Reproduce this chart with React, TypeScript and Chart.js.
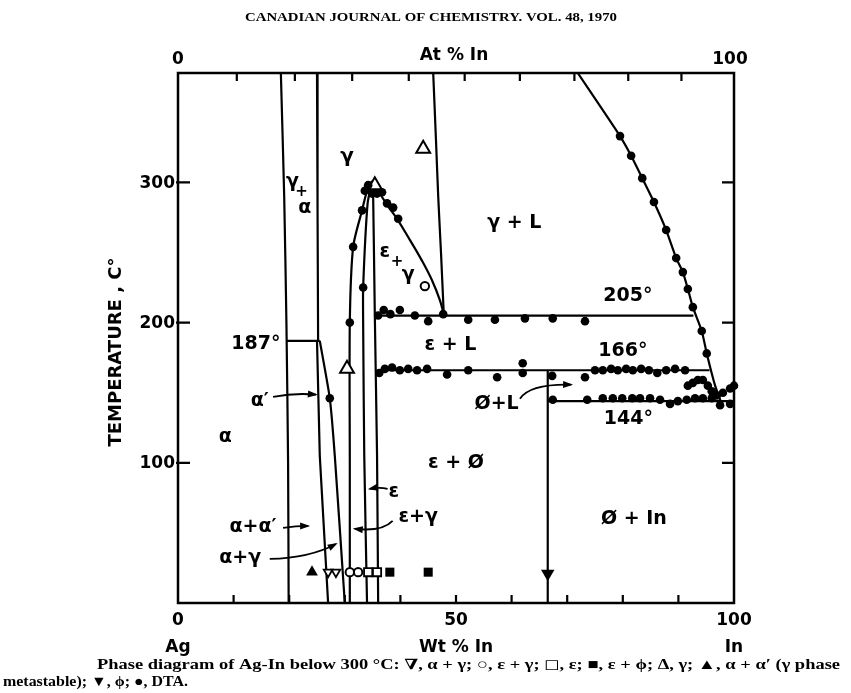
import React, { useEffect, useRef } from "react";
import { Chart, registerables } from "chart.js";

Chart.register(...registerables);

type P = [number, number];

// ---------- axes ----------
const X_MIN = 0;
const X_MAX = 100;
const Y_MIN = 0;
const Y_MAX = 378;
const yTickValues = [100, 200, 300];
const yTickLabels = ["100", "200", "300"];
const xTickValues = [10, 20, 30, 40, 50, 60, 70, 80, 90];
const xLabelValues = [0, 50, 100];
const xLabelTexts = ["0", "50", "100"];
const atTickValues = [10, 20, 30, 40, 50, 60, 70, 80, 90];
const atLabelValues = [0, 100];
const atLabelTexts = ["0", "100"];
const MASS_AG = 107.87;
const MASS_IN = 114.82;
const atToWt = (a: number) => (100 * a * MASS_IN) / (a * MASS_IN + (100 - a) * MASS_AG);

// ---------- phase boundaries (wt % In, °C) ----------
const alphaSolvus: P[] = [[18.5, 378], [19.1, 290], [19.5, 200], [19.8, 100], [19.9, 0]];
const gammaAlphaRight: P[] = [[25.0, 378], [25.1, 280], [25.2, 187]];
const iso187: P[] = [[19.6, 187], [25.5, 187]];
const alphaPrimeLeft: P[] = [[25.0, 187], [25.5, 105], [27.0, 0]];
const alphaPrimeRight: P[] = [[25.5, 187], [27.3, 146], [28.2, 105], [30.0, 0]];
const gammaLowLeft: P[] = [[30.9, 0], [30.9, 100], [30.9, 200], [31.5, 254], [33.1, 280], [34.0, 294], [34.9, 301]];
const epsLeft: P[] = [[34.0, 0], [33.5, 105], [33.3, 200], [33.3, 225], [34.1, 285], [34.9, 301]];
const epsRight: P[] = [[36.0, 0], [35.8, 105], [35.4, 205], [35.1, 290], [34.9, 301]];
const gammaEpsCurve: P[] = [[34.9, 301], [37.6, 284], [39.4, 274], [41.7, 259], [43.9, 244], [45.7, 230], [47.1, 216], [47.8, 206]];
const gammaRight: P[] = [[45.9, 378], [46.4, 330], [46.8, 290], [47.3, 250], [47.8, 206]];
const iso205: P[] = [[35.4, 205], [92.7, 205]];
const liquidus: P[] = [
  [71.9, 378], [79.5, 333], [81.5, 319], [83.5, 303], [85.6, 286], [87.8, 266], [89.6, 246],
  [90.8, 236], [91.7, 224], [92.6, 211], [94.2, 194], [95.1, 178], [96.6, 155], [97.6, 144],
];
const iso166: P[] = [[35.8, 166], [95.6, 166]];
const phiLine: P[] = [[66.5, 166], [66.5, 0]];
const iso144: P[] = [[66.5, 144], [100, 144]];

// ---------- experimental points ----------
const dtaPoints: P[] = [
  // peak region
  [30.9, 200], [31.5, 254], [33.1, 280], [33.3, 225], [34.2, 298], [33.6, 294], [34.9, 292],
  [35.8, 292], [36.7, 293], [37.6, 285], [38.7, 282], [39.6, 274], [27.3, 146],
  // 205 row
  [36.0, 205], [37.0, 209], [38.2, 206], [39.9, 209], [42.6, 205], [45.0, 201], [47.7, 206],
  [52.2, 202], [57.0, 202], [62.4, 203], [67.4, 203], [73.2, 201],
  // 166 row
  [36.2, 164], [37.2, 167], [38.5, 168], [39.9, 166], [41.4, 167], [43.0, 166], [44.8, 167],
  [48.4, 163], [52.2, 166], [57.4, 161], [62.0, 171], [62.0, 164], [67.3, 162], [73.2, 161],
  [75.0, 166], [76.4, 166], [77.9, 167], [79.1, 166], [80.6, 167], [81.8, 166], [83.3, 167],
  [84.7, 166], [86.2, 164], [87.8, 166], [89.4, 167], [91.2, 166],
  // 144 row
  [67.4, 145], [73.6, 145], [76.4, 146], [78.2, 146], [79.9, 146], [81.7, 146], [83.1, 146],
  [84.9, 146], [86.7, 145], [88.5, 142], [89.9, 144], [91.5, 145], [93.0, 146], [94.4, 146],
  [96.0, 146], [97.5, 141], [99.3, 142],
  // cluster near eutectic
  [91.7, 155], [92.6, 157], [93.5, 159], [94.4, 159], [95.3, 155], [96.0, 151], [96.9, 148],
  [98.0, 150], [99.3, 153], [100, 155],
  // liquidus
  [79.5, 333], [81.5, 319], [83.5, 303], [85.6, 286], [87.8, 266], [89.6, 246], [90.8, 236],
  [91.7, 224], [92.6, 211], [94.2, 194], [95.1, 178],
];
const gammaPoints: P[] = [[44.1, 324], [30.4, 167], [35.4, 298]]; // open up-triangles
const epsGammaPoints: P[] = [[44.4, 226], [30.9, 22], [32.4, 22]]; // open circles
const alphaGammaPoints: P[] = [[27.0, 22], [28.4, 22]]; // open down-triangles
const epsPoints: P[] = [[34.2, 22], [35.8, 22]]; // open squares
const epsPhiPoints: P[] = [[38.1, 22], [45.0, 22]]; // filled squares
const alphaAlphaPrimePoints: P[] = [[24.1, 22]]; // filled up-triangle
const phiPoints: P[] = [[66.5, 21]]; // filled down-triangle

// ---------- labels (wt %, °C) ----------
const regionLabels: [string, number, number, number][] = [
  ["γ", 30.4, 318, 20],
  ["α", 22.8, 282, 19],
  ["γ + L", 60.5, 271, 19],
  ["ε", 37.2, 250, 19],
  ["+", 39.4, 243, 15],
  ["γ", 41.4, 234, 19],
  ["205°", 80.9, 219, 19],
  ["187°", 14.0, 185, 19],
  ["ε + L", 49.0, 184, 19],
  ["166°", 80.0, 180, 19],
  ["Ø+L", 57.3, 142, 19],
  ["144°", 81.0, 131, 19],
  ["α′", 14.7, 144, 19],
  ["α", 8.5, 118, 19],
  ["ε + Ø", 50.0, 100, 19],
  ["ε", 38.8, 79, 19],
  ["ε+γ", 43.2, 61, 19],
  ["α+α′", 13.5, 54, 19],
  ["α+γ", 11.2, 32, 19],
  ["Ø + In", 82.0, 60, 19],
];
// arrows: start, control, end
const arrows: [P, P, P][] = [
  [[17.1, 147], [21.0, 150], [24.8, 148.6]],
  [[18.9, 53.6], [21.2, 55], [23.4, 55]],
  [[16.5, 31.4], [23.7, 32.1], [28.4, 42.1]],
  [[38.6, 58.6], [36.7, 50.7], [31.8, 52.9]],
  [[37.7, 81.4], [36.3, 82.9], [34.5, 81.4]],
  [[61.5, 145.7], [63.3, 156.4], [70.7, 155.7]],
];

const headerText = "CANADIAN JOURNAL OF CHEMISTRY. VOL. 48, 1970";
const captionLine1 = "Phase diagram of Ag-In below 300 °C: ∇, α + γ; ○, ε + γ; ◻, ε; ■, ε + ϕ; Δ, γ; ▲, α + α′ (γ phase";
const captionLine2 = "metastable); ▼, ϕ; ●, DTA.";

const pts = (a: P[]) => a.map(([x, y]) => ({ x, y }));

const LBL = '"DejaVu Sans", sans-serif';

const decor = {
  id: "decor",
  beforeDraw(chart: any) {
    const ctx = chart.ctx;
    ctx.save();
    ctx.fillStyle = "#fff";
    ctx.fillRect(0, 0, chart.width, chart.height);
    ctx.restore();
  },
  afterDraw(chart: any) {
    const ctx: CanvasRenderingContext2D = chart.ctx;
    const xs = chart.scales.x;
    const ys = chart.scales.y;
    const X = (v: number) => xs.getPixelForValue(v);
    const Y = (v: number) => ys.getPixelForValue(v);
    const { left, right, top, bottom } = chart.chartArea;
    ctx.save();
    ctx.strokeStyle = "#000";
    ctx.fillStyle = "#000";
    ctx.lineCap = "butt";
    // frame
    ctx.lineWidth = 2.5;
    ctx.strokeRect(left, top, right - left, bottom - top);
    // ticks
    ctx.lineWidth = 2.2;
    ctx.beginPath();
    yTickValues.forEach((v) => {
      ctx.moveTo(left - 2, Y(v));
      ctx.lineTo(left + 12, Y(v));
      ctx.moveTo(right - 12, Y(v));
      ctx.lineTo(right, Y(v));
    });
    xTickValues.forEach((v) => {
      ctx.moveTo(X(v), bottom);
      ctx.lineTo(X(v), bottom - 8);
    });
    atTickValues.forEach((a) => {
      ctx.moveTo(X(atToWt(a)), top);
      ctx.lineTo(X(atToWt(a)), top + 8);
    });
    ctx.stroke();

    const text = (s: string, x: number, y: number, size: number, align: CanvasTextAlign = "center", weight = "bold", fam = LBL) => {
      ctx.font = `${weight} ${size}px ${fam}`;
      ctx.textAlign = align;
      ctx.textBaseline = "middle";
      ctx.fillText(s, x, y);
    };

    // y tick labels
    yTickValues.forEach((v, i) => text(yTickLabels[i], left - 3, Y(v) + 1, 17, "right"));
    // bottom labels
    xLabelValues.forEach((v, i) => text(xLabelTexts[i], X(v), 621, 17));
    text("Ag", X(0), 648, 17);
    text("Wt % In", X(50), 648, 17);
    text("In", X(100), 648, 17);
    // top labels
    atLabelValues.forEach((a, i) => text(atLabelTexts[i], X(atToWt(a)) - (a === 100 ? 4 : 0), 60, 17));
    text("At % In", X(50) - 2, 56, 17);
    // y title
    ctx.save();
    ctx.translate(116, 352);
    ctx.rotate(-Math.PI / 2);
    text("TEMPERATURE , C°", 0, 0, 18);
    ctx.restore();

    // region labels
    regionLabels.forEach(([s, x, y, size]) => text(s, X(x), Y(y), size, "center", "bold"));
    // gamma+alpha label
    text("γ", X(20.6), Y(300), 19);
    text("+", X(22.2), Y(293), 15);

    // arrows
    ctx.lineWidth = 1.8;
    arrows.forEach(([s, c, e]) => {
      const sx = X(s[0]), sy = Y(s[1]);
      const cx = X(c[0]), cy = Y(c[1]);
      const ex = X(e[0]), ey = Y(e[1]);
      ctx.beginPath();
      ctx.moveTo(sx, sy);
      ctx.quadraticCurveTo(cx, cy, ex, ey);
      ctx.stroke();
      const ang = Math.atan2(ey - cy, ex - cx);
      const L = 8, W = 3.5;
      ctx.beginPath();
      ctx.moveTo(ex + Math.cos(ang) * 2, ey + Math.sin(ang) * 2);
      ctx.lineTo(ex - Math.cos(ang) * L + Math.sin(ang) * W, ey - Math.sin(ang) * L - Math.cos(ang) * W);
      ctx.lineTo(ex - Math.cos(ang) * L - Math.sin(ang) * W, ey - Math.sin(ang) * L + Math.cos(ang) * W);
      ctx.closePath();
      ctx.fill();
    });

    // header & caption
    const SERIF = '"Liberation Serif", "DejaVu Serif", serif';
    const fit = (s: string, x: number, y: number, width: number, size: number, align: CanvasTextAlign, weight: string) => {
      ctx.font = `${weight} ${size}px ${SERIF}`;
      const w = ctx.measureText(s).width;
      ctx.save();
      ctx.translate(x, y);
      ctx.scale(width / w, 1);
      ctx.textAlign = align;
      ctx.textBaseline = "middle";
      ctx.fillText(s, 0, 0);
      ctx.restore();
    };
    fit(headerText, 245, 18, 372, 13.5, "left", "bold");
    fit(captionLine1, 97, 665, 743, 14.5, "left", "bold");
    fit(captionLine2, 3, 682, 185, 14.5, "left", "bold");
    ctx.restore();
  },
};

export default function App() {
  const ref = useRef<HTMLCanvasElement>(null);
  useEffect(() => {
    if (!ref.current) return;
    const lineDs = (data: P[], tension = 0) => ({
      type: "scatter" as const,
      data: pts(data),
      showLine: true,
      borderColor: "#000",
      borderWidth: 2.2,
      pointRadius: 0,
      tension,
      order: 5,
    });
    const mark = (data: P[], style: any, radius: number, fill: string, rotation = 0, bw = 1.8) => ({
      type: "scatter" as const,
      data: pts(data),
      showLine: false,
      pointStyle: style,
      pointRadius: radius,
      pointRotation: rotation,
      pointBackgroundColor: fill,
      pointBorderColor: "#000",
      pointBorderWidth: bw,
      clip: false as any,
      order: 1,
    });
    const chart = new Chart(ref.current, {
      type: "scatter",
      data: {
        datasets: [
          lineDs(alphaSolvus, 0.2),
          lineDs(gammaAlphaRight),
          lineDs(iso187),
          lineDs(alphaPrimeLeft),
          lineDs(alphaPrimeRight, 0.2),
          lineDs(gammaLowLeft, 0.25),
          lineDs(epsLeft, 0.2),
          lineDs(epsRight, 0.1),
          lineDs(gammaEpsCurve, 0.4),
          lineDs(gammaRight, 0.2),
          lineDs(iso205),
          lineDs(liquidus, 0.2),
          lineDs(iso166),
          lineDs(phiLine),
          lineDs(iso144),
          mark(dtaPoints, "circle", 4.3, "#000", 0, 0),
          mark(gammaPoints, "triangle", 8, "#fff", 0, 2),
          mark(epsGammaPoints, "circle", 4.2, "#fff", 0, 2),
          mark(alphaGammaPoints, "triangle", 5, "#fff", 180, 1.8),
          mark(epsPoints, "rect", 5.8, "#fff", 0, 1.8),
          mark(epsPhiPoints, "rect", 6.4, "#000", 0, 0),
          mark(alphaAlphaPrimePoints, "triangle", 6.8, "#000", 0, 0),
          mark(phiPoints, "triangle", 7.8, "#000", 180, 0),
        ],
      },
      options: {
        animation: false,
        responsive: false,
        maintainAspectRatio: false,
        devicePixelRatio: 1,
        layout: { padding: { left: 178, right: 117, top: 73, bottom: 90 } },
        scales: {
          x: { type: "linear", min: X_MIN, max: X_MAX, display: false },
          y: { type: "linear", min: Y_MIN, max: Y_MAX, display: false },
        },
        plugins: { legend: { display: false }, tooltip: { enabled: false } },
        events: [],
      },
      plugins: [decor],
    });
    return () => chart.destroy();
  }, []);
  return (
    <div style={{ position: "fixed", left: 0, top: 0, width: 851, height: 693, background: "#fff" }}>
      <canvas ref={ref} width={851} height={693} style={{ display: "block", width: 851, height: 693 }} />
    </div>
  );
}
